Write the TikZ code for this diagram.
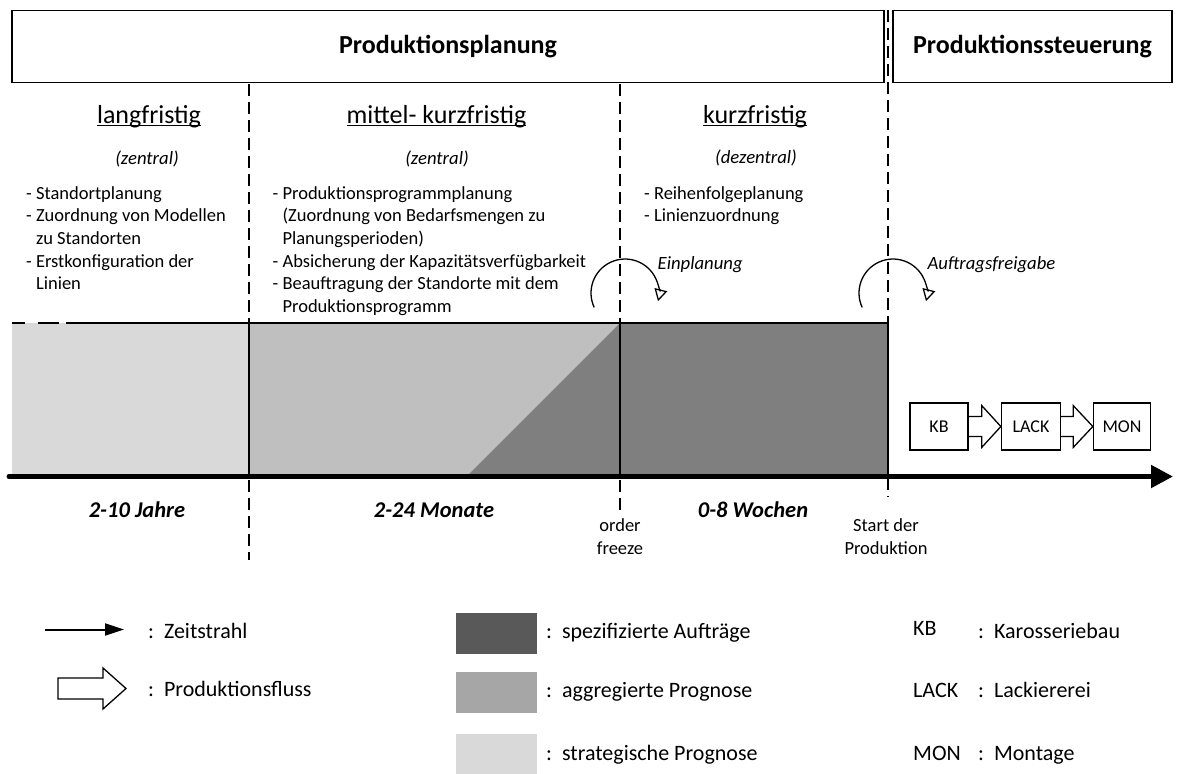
\documentclass[tikz,border=0pt]{standalone}
\usepackage{fontspec}
\setmainfont{Carlito}
\usetikzlibrary{arrows.meta,calc}
\definecolor{strat}{HTML}{D9D9D9}
\definecolor{aggr}{HTML}{BFBFBF}
\definecolor{spec}{HTML}{7F7F7F}
\definecolor{legdark}{HTML}{595959}
\definecolor{legmid}{HTML}{A6A6A6}
\definecolor{leglight}{HTML}{D9D9D9}
% underline that sits just below the baseline
\newcommand\ulword[1]{\setbox0=\hbox{#1}\rlap{\rule[-2.6pt]{\wd0}{1.3pt}}\box0}

\begin{document}
\begin{tikzpicture}[x=1pt,y=-1pt,
  outline/.style={draw, line width=1.3pt},
  headbox/.style={outline, inner sep=0pt, font=\fontsize{26}{30}\selectfont\bfseries},
  heading/.style={font=\fontsize{26}{30}\selectfont, inner sep=0pt},
  orgnote/.style={font=\fontsize{18.7}{22}\selectfont\itshape, inner sep=0pt},
  tasklist/.style={font=\fontsize{18.5}{22.6}\selectfont, align=left, anchor=north west, inner sep=0pt},
  horizon/.style={font=\fontsize{22.5}{26}\selectfont\bfseries\itshape, inner sep=0pt},
  milestone/.style={font=\fontsize{18.5}{23}\selectfont, align=center, inner sep=0pt},
  divider/.style={line width=1.3pt, dash pattern=on 12pt off 6pt},
  bandline/.style={line width=2.5pt},
  stage/.style={outline, minimum height=47pt, inner sep=0pt, font=\fontsize{18}{21}\selectfont},
  flow/.style={line width=1.3pt, line join=miter},
  turn/.style={line width=1.3pt, -{Triangle[open,length=12pt,width=13pt]}},
  turnlabel/.style={font=\fontsize{18.7}{22}\selectfont\itshape, anchor=west, inner sep=0pt},
  legtext/.style={font=\fontsize{22}{26}\selectfont, anchor=west, inner sep=0pt,
    text height=0.75em, text depth=0.25em}
]
\useasboundingbox (0,0) rectangle (1187,774);

% header boxes
\node[headbox, minimum width=872pt, minimum height=72.5pt] (plan) at (448,46.5) {Produktionsplanung};
\node[headbox, minimum width=279pt, minimum height=72.5pt] (ctrl) at (1032.5,46.5) {Produktionssteuerung};

% phase dividers
\coordinate (d1t) at (249,84);  \coordinate (d1b) at (249,560);
\coordinate (d2t) at (620,84);  \coordinate (d2b) at (620,510);
\coordinate (d3t) at (888,10);  \coordinate (d3b) at (888,497);
\draw[divider] (d1t) -- (d1b);
\draw[divider] (d2t) -- (d2b);
\draw[divider] (d3t) -- (d3b);

% planning band
\fill[strat] (12,323) rectangle (249,476);
\fill[aggr] (249,323) rectangle (620,476);
\fill[spec] (467,476) -- (620,323) -- (888,323) -- (888,476) -- cycle;
\draw[bandline] (12,323) -- (25,323);
\draw[bandline] (38,323) -- (59,323);
\draw[bandline] (66,323) -- (888,323);
\draw[bandline] (249,323) -- (249,476);
\draw[bandline] (620,323) -- (620,476);
\draw[bandline] (888,323) -- (888,476);

% time axis
\coordinate (t0) at (9,476.5);
\coordinate (t1) at (1173,476.5);
\draw[line width=5pt, line cap=round, -{Triangle[length=22pt,width=22pt]}] (t0) -- (t1);

% phase headings
\node[heading] (h1) at (149,117) {\ulword{langfristig}};
\node[heading] (h2) at (436.5,117) {\ulword{mittel- kurzfristig}};
\node[heading] (h3) at (755,117) {\ulword{kurzfristig}};
\node[orgnote] (o1) at (147,159) {(zentral)};
\node[orgnote] (o2) at (437,159) {(zentral)};
\node[orgnote] (o3) at (756,158) {(dezentral)};

% task lists
\node[tasklist] (l1) at (26,183.2) {\strut- Standortplanung\\
- Zuordnung von Modellen\\
\hphantom{- }zu Standorten\\
- Erstkonfiguration der\\
\hphantom{- }Linien};
\node[tasklist] (l2) at (272.5,183.2) {\strut- Produktionsprogrammplanung\\
\hphantom{- }(Zuordnung von Bedarfsmengen zu\\
\hphantom{- }Planungsperioden)\\
- Absicherung der Kapazitätsverfügbarkeit\\
- Beauftragung der Standorte mit dem\\
\hphantom{- }Produktionsprogramm};
\node[tasklist] (l3) at (644,183.2) {\strut- Reihenfolgeplanung\\
- Linienzuordnung};

% hand-over arrows
\coordinate (e0) at (594.2,307.4);
\draw[turn] (e0) arc[start angle=205, end angle=-14, radius=34pt];
\node[turnlabel] (einpl) at (657.5,264.5) {Einplanung};
\coordinate (a0) at (862.2,307.4);
\draw[turn] (a0) arc[start angle=205, end angle=-14, radius=34pt];
\node[turnlabel] (afg) at (927.3,264.5) {Auftragsfreigabe};

% horizons and milestones
\node[horizon] (z1) at (137,510) {2-10 Jahre};
\node[horizon] (z2) at (434,510) {2-24 Monate};
\node[horizon] (z3) at (753,510) {0-8 Wochen};
\node[milestone] (freeze) at (620,536.5) {order\\freeze};
\node[milestone] (sop) at (886,536.5) {Start der\\Produktion};

% production stages
\node[stage, minimum width=58pt] (kb) at (939,426.5) {KB};
\node[stage, minimum width=59pt] (lack) at (1031,426.5) {LACK};
\node[stage, minimum width=57pt] (mon) at (1122,426.5) {MON};
\draw[flow] ($(kb.east)+(0,-10)$) -- ($(kb.east)+(13,-10)$) -- ($(kb.east)+(13,-21)$)
  -- (lack.west) -- ($(kb.east)+(13,21)$) -- ($(kb.east)+(13,10)$) -- ($(kb.east)+(0,10)$);
\draw[flow] ($(lack.east)+(0,-10)$) -- ($(lack.east)+(12,-10)$) -- ($(lack.east)+(12,-21)$)
  -- (mon.west) -- ($(lack.east)+(12,21)$) -- ($(lack.east)+(12,10)$) -- ($(lack.east)+(0,10)$);

% legend: symbols
\coordinate (z0) at (45,629.5);
\coordinate (z9) at (124,629.5);
\draw[line width=2pt, -{Triangle[length=19pt,width=12pt]}] (z0) -- (z9);
\node[legtext] (lz) at (148,636) {:\ \ Zeitstrahl};
\draw[flow] (58,678) -- (103,678) -- (103,668) -- (126,688.5) -- (103,709) -- (103,699) -- (58,699) -- cycle;
\node[legtext] (lp) at (148,694) {:\ \ Produktionsfluss};

% legend: shades
\fill[legdark] (456,613) rectangle (537,654);
\fill[legmid] (456,672) rectangle (537,713);
\fill[leglight] (456,734) rectangle (537,774);
\node[legtext] (ls) at (546,636) {:\ \ spezifizierte Aufträge};
\node[legtext] (la) at (546,695) {:\ \ aggregierte Prognose};
\node[legtext] (lg) at (546,758) {:\ \ strategische Prognose};

% legend: abbreviations
\node[legtext] (kbk) at (913,633) {KB};
\node[legtext] (kbt) at (978,636) {:\ \ Karosseriebau};
\node[legtext] (lak) at (913,695) {LACK};
\node[legtext] (lat) at (978,695) {:\ \ Lackiererei};
\node[legtext] (mok) at (913,758) {MON};
\node[legtext] (mot) at (978,758) {:\ \ Montage};
\end{tikzpicture}
\end{document}
